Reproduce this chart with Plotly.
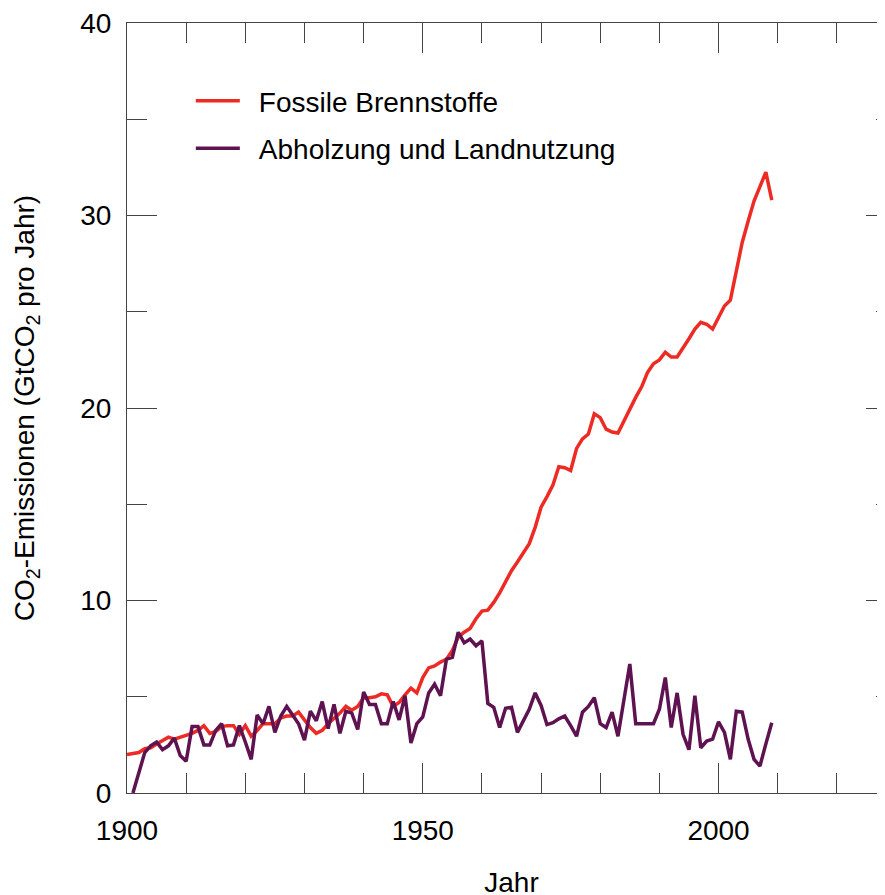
import plotly.graph_objects as go

# Fossil fuel emissions (GtCO2 per year), 1900-2009
fossil_years = list(range(1900, 2010))
fossil_values = [
    2.0, 2.05, 2.1, 2.3, 2.35, 2.55, 2.7, 2.9, 2.8, 2.9,
    3.0, 3.1, 3.25, 3.5, 3.1, 3.2, 3.45, 3.5, 3.5, 3.05,
    3.5, 2.95, 3.25, 3.6, 3.6, 3.6, 3.9, 4.0, 4.0, 4.2,
    3.8, 3.4, 3.1, 3.25, 3.6, 3.85, 4.15, 4.5, 4.3, 4.5,
    4.95, 4.95, 5.0, 5.15, 5.1, 4.5, 4.7, 5.1, 5.45, 5.2,
    6.0, 6.5, 6.6, 6.8, 6.95, 7.4, 8.1, 8.35, 8.55, 9.05,
    9.45, 9.5, 9.9, 10.4, 11.0, 11.55, 12.0, 12.45, 12.95, 13.8,
    14.85, 15.4, 16.0, 16.95, 16.9, 16.75, 17.9, 18.4, 18.65, 19.7,
    19.5, 18.9, 18.75, 18.7, 19.35, 19.95, 20.55, 21.1, 21.85, 22.3,
    22.5, 22.9, 22.65, 22.65, 23.1, 23.6, 24.1, 24.45, 24.35, 24.1,
    24.7, 25.3, 25.6, 27.15, 28.6, 29.7, 30.75, 31.5, 32.25, 30.8,
]

# Deforestation and land use emissions (GtCO2 per year), 1901-2009
land_years = list(range(1901, 2010))
land_values = [
    0.0, 1.0, 2.1, 2.45, 2.65, 2.25, 2.45, 2.85, 1.95,
    1.65, 3.45, 3.45, 2.5, 2.5, 3.25, 3.6, 2.45, 2.5, 3.5,
    2.65, 1.75, 4.05, 3.6, 4.5, 3.15, 4.0, 4.5, 4.05, 3.6,
    2.75, 4.25, 3.75, 4.75, 3.35, 4.6, 3.1, 4.25, 4.15, 3.3,
    5.25, 4.6, 4.6, 3.6, 3.6, 4.75, 3.8, 5.05, 2.6, 3.6,
    3.95, 5.2, 5.65, 5.05, 6.95, 7.05, 8.35, 7.8, 8.0, 7.65,
    7.9, 4.65, 4.45, 3.4, 4.4, 4.45, 3.15, 3.75, 4.35, 5.2,
    4.55, 3.55, 3.65, 3.85, 4.0, 3.5, 2.95, 4.2, 4.5, 4.95,
    3.6, 3.4, 4.2, 2.95, 4.9, 6.7, 3.6, 3.6, 3.6, 3.6,
    4.35, 6.0, 3.4, 5.2, 3.05, 2.25, 5.05, 2.35, 2.7, 2.8,
    3.7, 3.15, 1.75, 4.25, 4.2, 2.8, 1.75, 1.4, 2.55, 3.65,
]

series_names = ["\u2002Fossile Brennstoffe", "\u2002Abholzung und Landnutzung"]
series_colors = ["#ED2B24", "#5E1250"]

FONT = "Liberation Sans, Arial, Helvetica, sans-serif"
AXC = "#444444"
FS = 28

fig = go.Figure()
fig.add_trace(go.Scatter(x=fossil_years, y=fossil_values, mode="lines",
                         name=series_names[0], legendgroup="a",
                         line=dict(color=series_colors[0], width=3.5)))
fig.add_trace(go.Scatter(x=land_years, y=land_values, mode="lines",
                         name=series_names[1], legendgroup="b",
                         line=dict(color=series_colors[1], width=3.5)))

axis_common = dict(
    showgrid=False, zeroline=False, showline=True, linecolor=AXC, linewidth=1,
    mirror="allticks", ticks="inside", ticklen=30, tickwidth=1, tickcolor=AXC,
    tickfont=dict(size=FS, color="black", family=FONT), automargin=False,
    ticklabeloverflow="allow",
)

fig.update_layout(
    width=890, height=895,
    margin=dict(l=119, r=2, t=15, b=110),
    paper_bgcolor="white", plot_bgcolor="white",
    font=dict(family=FONT, size=FS, color="black"),
    showlegend=True,
    legend=dict(x=0.083, y=0.931, xanchor="left", yanchor="top",
                bgcolor="rgba(0,0,0,0)", font=dict(size=FS, family=FONT),
                tracegroupgap=8, itemwidth=44),
    xaxis=dict(range=[1900, 2030], tick0=1900, dtick=50,
               minor=dict(dtick=10, ticklen=20, ticks="inside", tickcolor=AXC, tickwidth=1),
               ticklabelstandoff=12,
               title=dict(text="Jahr", font=dict(size=FS, family=FONT), standoff=27),
               **axis_common),
    yaxis=dict(range=[0, 40], tick0=0, dtick=10,
               minor=dict(dtick=5, ticklen=20, ticks="inside", tickcolor=AXC, tickwidth=1),
               ticklabelstandoff=9,
               title=dict(text="CO<sub>2</sub>-Emissionen (GtCO<sub>2</sub> pro Jahr)",
                          font=dict(size=FS, family=FONT), standoff=37),
               **axis_common),
)

fig.write_html("out.html")
